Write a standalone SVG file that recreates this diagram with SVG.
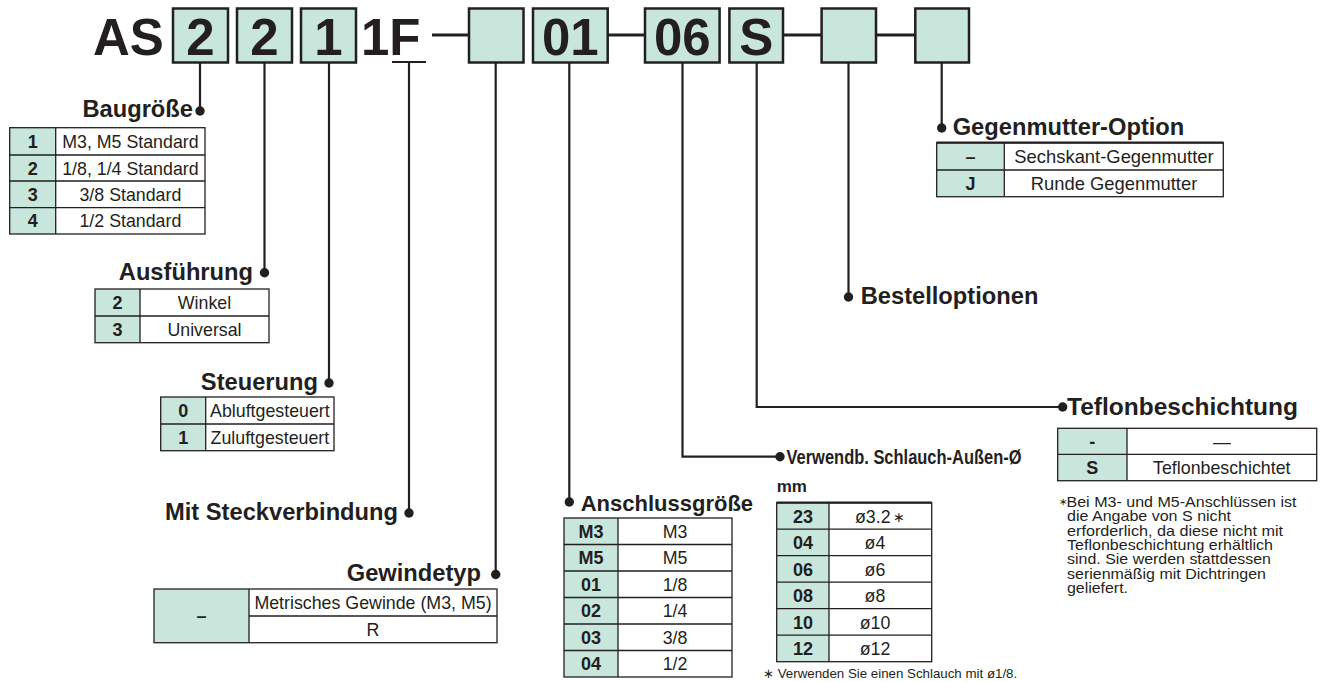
<svg xmlns="http://www.w3.org/2000/svg" width="1323" height="682" viewBox="0 0 1323 682">
<style>
.box{fill:#c9e6dc;stroke:#231f20;stroke-width:2.5}
.key{fill:#c9e6dc}
.val{fill:#ffffff}
.grid{fill:none;stroke:#231f20;stroke-width:1.3}
.topb{stroke:#231f20;stroke-width:2.2}
.big{font-family:"Liberation Sans",Arial,sans-serif;font-weight:bold;font-size:51px;fill:#231f20}
.h{font-family:"Liberation Sans",Arial,sans-serif;font-weight:bold;font-size:23.7px;fill:#231f20}
.k{font-family:"Liberation Sans",Arial,sans-serif;font-weight:bold;font-size:18px;fill:#231f20;text-anchor:middle}
.v{font-family:"Liberation Sans",Arial,sans-serif;font-size:17.8px;fill:#231f20;text-anchor:middle}
.n{font-family:"Liberation Sans",Arial,sans-serif;font-size:14.4px;fill:#231f20}
.wire{fill:none;stroke:#231f20;stroke-width:2.2}
.link{fill:none;stroke:#231f20;stroke-width:3}
.dot{fill:#231f20}
</style>

<g id="model-code">
  <text class="big" x="93" y="55">AS</text>
  <rect class="box" x="173" y="8.5" width="55" height="54"/>
  <text class="big" x="200.5" y="55" text-anchor="middle">2</text>
  <rect class="box" x="237" y="8.5" width="55" height="54"/>
  <text class="big" x="264.5" y="55" text-anchor="middle">2</text>
  <rect class="box" x="301" y="8.5" width="55" height="54"/>
  <text class="big" x="328.5" y="55" text-anchor="middle">1</text>
  <text class="big" x="361" y="55">1F</text>
  <line x1="392" y1="62" x2="426" y2="62" stroke="#231f20" stroke-width="2.2"/>
  <line class="link" x1="432" y1="35" x2="469" y2="35"/>
  <rect class="box" x="469" y="8.5" width="54.5" height="54"/>
  <rect class="box" x="533" y="8.5" width="74.7" height="54"/>
  <text class="big" x="570.3" y="55" text-anchor="middle">01</text>
  <line class="link" x1="607.7" y1="35" x2="645" y2="35"/>
  <rect class="box" x="645" y="8.5" width="74.6" height="54"/>
  <text class="big" x="682.3" y="55" text-anchor="middle">06</text>
  <rect class="box" x="729.4" y="8.5" width="53.6" height="54"/>
  <text class="big" x="756.2" y="55" text-anchor="middle">S</text>
  <line class="link" x1="783" y1="35" x2="821.6" y2="35"/>
  <rect class="box" x="821.6" y="8.5" width="54.4" height="54"/>
  <line class="link" x1="876" y1="35" x2="915.3" y2="35"/>
  <rect class="box" x="915.3" y="8.5" width="53.7" height="54"/>
</g>

<g id="connectors">
  <path class="wire" d="M200,62.5 V111"/>
  <path class="wire" d="M264.5,62.5 V272.7"/>
  <path class="wire" d="M329,62.5 V383"/>
  <path class="wire" d="M409,62 V513"/>
  <path class="wire" d="M495.7,62.5 V574.5"/>
  <path class="wire" d="M569.3,62.5 V502"/>
  <path class="wire" d="M682.5,62.5 V456.7 H780"/>
  <path class="wire" d="M756.7,62.5 V407 H1062.7"/>
  <path class="wire" d="M848.5,62.5 V297"/>
  <path class="wire" d="M941.7,62.5 V128"/>
  <circle class="dot" cx="200" cy="111" r="4.7"/>
  <circle class="dot" cx="264.5" cy="272.7" r="4.7"/>
  <circle class="dot" cx="329" cy="383" r="4.7"/>
  <circle class="dot" cx="409" cy="513" r="4.7"/>
  <circle class="dot" cx="495.7" cy="574.5" r="4.7"/>
  <circle class="dot" cx="569.3" cy="502" r="4.7"/>
  <circle class="dot" cx="780" cy="456.7" r="4.7"/>
  <circle class="dot" cx="1062.7" cy="407" r="4.7"/>
  <circle class="dot" cx="848.5" cy="297" r="4.7"/>
  <circle class="dot" cx="941.7" cy="128" r="4.7"/>
</g>

<g id="baugroesse">
  <text class="h" x="193" y="117" text-anchor="end">Baugröße</text>
  <rect class="key" x="9.7" y="127.7" width="46" height="106.3"/>
  <rect class="val" x="55.7" y="127.7" width="149.3" height="106.3"/>
  <rect class="grid" x="9.7" y="127.7" width="195.3" height="106.3"/>
  <path class="grid" d="M55.7,127.7 V234 M9.7,155 H205 M9.7,181 H205 M9.7,207.7 H205"/>
  <text class="k" x="32.7" y="147.9">1</text>
  <text class="k" x="32.7" y="174.5">2</text>
  <text class="k" x="32.7" y="200.9">3</text>
  <text class="k" x="32.7" y="227.4">4</text>
  <text class="v" x="130.4" y="147.9">M3, M5 Standard</text>
  <text class="v" x="130.4" y="174.5">1/8, 1/4 Standard</text>
  <text class="v" x="130.4" y="200.9">3/8 Standard</text>
  <text class="v" x="130.4" y="227.4">1/2 Standard</text>
</g>

<g id="ausfuehrung">
  <text class="h" x="253" y="279.5" text-anchor="end">Ausführung</text>
  <rect class="key" x="95" y="289" width="45" height="53.7"/>
  <rect class="val" x="140" y="289" width="129" height="53.7"/>
  <rect class="grid" x="95" y="289" width="174" height="53.7"/>
  <path class="grid" d="M140,289 V342.7 M95,316 H269"/>
  <text class="k" x="117.5" y="309">2</text>
  <text class="k" x="117.5" y="335.9">3</text>
  <text class="v" x="204.5" y="309">Winkel</text>
  <text class="v" x="204.5" y="335.9">Universal</text>
</g>

<g id="steuerung">
  <text class="h" x="318" y="390" text-anchor="end">Steuerung</text>
  <rect class="key" x="160.7" y="397" width="45" height="53.7"/>
  <rect class="val" x="205.7" y="397" width="128.3" height="53.7"/>
  <rect class="grid" x="160.7" y="397" width="173.3" height="53.7"/>
  <path class="grid" d="M205.7,397 V450.7 M160.7,424 H334"/>
  <text class="k" x="183.2" y="417">0</text>
  <text class="k" x="183.2" y="443.8">1</text>
  <text class="v" x="269.9" y="417">Abluftgesteuert</text>
  <text class="v" x="269.9" y="443.8">Zuluftgesteuert</text>
</g>

<g id="steckverbindung">
  <text class="h" x="398" y="520" text-anchor="end">Mit Steckverbindung</text>
</g>

<g id="gewindetyp">
  <text class="h" x="481" y="581" text-anchor="end">Gewindetyp</text>
  <rect class="key" x="154" y="589" width="95" height="53.7"/>
  <rect class="val" x="249" y="589" width="248" height="53.7"/>
  <rect class="grid" x="154" y="589" width="343" height="53.7"/>
  <path class="grid" d="M249,589 V642.7 M249,616 H497"/>
  <text class="k" x="201.5" y="622">–</text>
  <text class="v" x="373" y="609">Metrisches Gewinde (M3, M5)</text>
  <text class="v" x="373" y="635.8">R</text>
</g>

<g id="anschlussgroesse">
  <text class="h" x="580.7" y="510.7" style="font-size:22px">Anschlussgröße</text>
  <rect class="key" x="564" y="518" width="54" height="159"/>
  <rect class="val" x="618" y="518" width="114" height="159"/>
  <rect class="grid" x="564" y="518" width="168" height="159"/>
  <path class="grid" d="M618,518 V677 M564,544.5 H732 M564,571 H732 M564,597.5 H732 M564,624 H732 M564,650.5 H732"/>
  <text class="k" x="591" y="537.8">M3</text>
  <text class="k" x="591" y="564.3">M5</text>
  <text class="k" x="591" y="590.8">01</text>
  <text class="k" x="591" y="617.3">02</text>
  <text class="k" x="591" y="643.8">03</text>
  <text class="k" x="591" y="670.3">04</text>
  <text class="v" x="675" y="537.8">M3</text>
  <text class="v" x="675" y="564.3">M5</text>
  <text class="v" x="675" y="590.8">1/8</text>
  <text class="v" x="675" y="617.3">1/4</text>
  <text class="v" x="675" y="643.8">3/8</text>
  <text class="v" x="675" y="670.3">1/2</text>
</g>

<g id="schlauch">
  <text class="h" x="786.5" y="464" style="font-size:21px" textLength="235" lengthAdjust="spacingAndGlyphs">Verwendb. Schlauch-Außen-Ø</text>
  <text class="h" x="776.7" y="492" style="font-size:17px">mm</text>
  <rect class="key" x="776.7" y="502.7" width="52.3" height="159"/>
  <rect class="val" x="829" y="502.7" width="102.7" height="159"/>
  <rect class="grid" x="776.7" y="502.7" width="155" height="159"/>
  <line class="topb" x1="776.7" y1="502.7" x2="931.7" y2="502.7"/>
  <path class="grid" d="M829,502.7 V661.7 M776.7,529.2 H931.7 M776.7,555.7 H931.7 M776.7,582.2 H931.7 M776.7,608.7 H931.7 M776.7,635.2 H931.7"/>
  <text class="k" x="803" y="522.5">23</text>
  <text class="k" x="803" y="549">04</text>
  <text class="k" x="803" y="575.5">06</text>
  <text class="k" x="803" y="602">08</text>
  <text class="k" x="803" y="628.5">10</text>
  <text class="k" x="803" y="655">12</text>
  <text class="v" x="855" y="522.5" style="text-anchor:start">ø3.2<tspan dx="2" dy="-1" style="font-size:14px">∗</tspan></text>
  <text class="v" x="875" y="549">ø4</text>
  <text class="v" x="875" y="575.5">ø6</text>
  <text class="v" x="875" y="602">ø8</text>
  <text class="v" x="875" y="628.5">ø10</text>
  <text class="v" x="875" y="655">ø12</text>
  <text class="n" x="763" y="678" style="font-size:13.3px">∗ Verwenden Sie einen Schlauch mit ø1/8.</text>
</g>

<g id="teflon">
  <text class="h" x="1067" y="415" style="font-size:24.5px">Teflonbeschichtung</text>
  <rect class="key" x="1057.7" y="428.3" width="69.3" height="52.4"/>
  <rect class="val" x="1127" y="428.3" width="189.7" height="52.4"/>
  <rect class="grid" x="1057.7" y="428.3" width="259" height="52.4"/>
  <path class="grid" d="M1127,428.3 V480.7 M1057.7,454.3 H1316.7"/>
  <text class="k" x="1092.3" y="447.8">-</text>
  <text class="k" x="1092.3" y="474">S</text>
  <text class="v" x="1221.8" y="447.8">—</text>
  <text class="v" x="1221.8" y="474">Teflonbeschichtet</text>
  <text class="n" x="1058.5" y="505" style="font-size:10px">∗</text>
  <text class="n" x="1066.5" y="507" textLength="230" lengthAdjust="spacingAndGlyphs">Bei M3- und M5-Anschlüssen ist</text>
  <text class="n" x="1067" y="521.3" textLength="164" lengthAdjust="spacingAndGlyphs">die Angabe von S nicht</text>
  <text class="n" x="1067" y="535.6" textLength="216" lengthAdjust="spacingAndGlyphs">erforderlich, da diese nicht mit</text>
  <text class="n" x="1067" y="549.9" textLength="206" lengthAdjust="spacingAndGlyphs">Teflonbeschichtung erhältlich</text>
  <text class="n" x="1067" y="564.2" textLength="204" lengthAdjust="spacingAndGlyphs">sind. Sie werden stattdessen</text>
  <text class="n" x="1067" y="578.5" textLength="199" lengthAdjust="spacingAndGlyphs">serienmäßig mit Dichtringen</text>
  <text class="n" x="1067" y="592.8" textLength="61" lengthAdjust="spacingAndGlyphs">geliefert.</text>
</g>

<g id="bestelloptionen">
  <text class="h" x="860.7" y="304">Bestelloptionen</text>
</g>

<g id="gegenmutter">
  <text class="h" x="952.7" y="134.5">Gegenmutter-Option</text>
  <rect class="key" x="936.7" y="142.7" width="67.6" height="54"/>
  <rect class="val" x="1004.3" y="142.7" width="219" height="54"/>
  <rect class="grid" x="936.7" y="142.7" width="286.6" height="54"/>
  <line class="topb" x1="936.7" y1="142.7" x2="1223.3" y2="142.7"/>
  <path class="grid" d="M1004.3,142.7 V196.7 M936.7,170 H1223.3"/>
  <text class="k" x="970.5" y="162.8">–</text>
  <text class="k" x="970.5" y="189.8">J</text>
  <text class="v" x="1114" y="162.8" style="font-size:18.4px">Sechskant-Gegenmutter</text>
  <text class="v" x="1114" y="189.8" style="font-size:18.4px">Runde Gegenmutter</text>
</g>
</svg>
